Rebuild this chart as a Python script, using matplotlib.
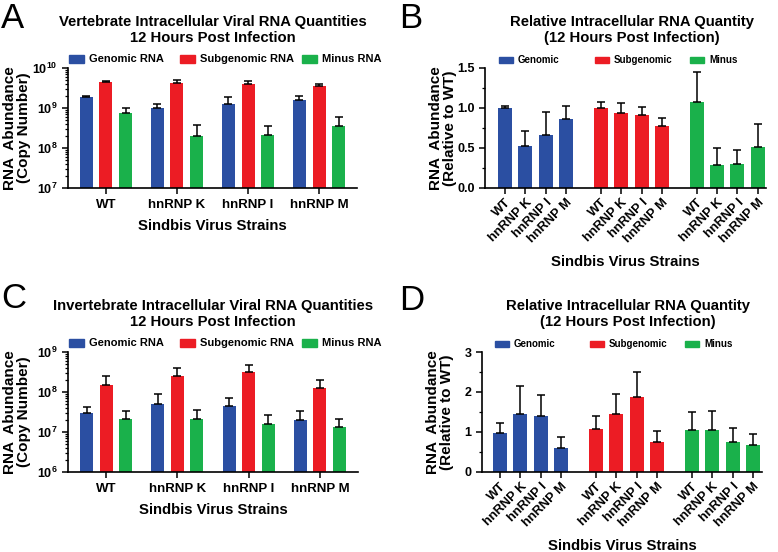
#!/usr/bin/env python3
"""Sindbis virus intracellular RNA quantities, 12 h post infection (4 panels)."""

import numpy as np
import matplotlib
matplotlib.use('Agg')
import matplotlib.pyplot as plt
from matplotlib.patches import Rectangle
from matplotlib.ticker import FuncFormatter, LogLocator, MultipleLocator

W, H = 778, 552

BLUE = '#2b4fa2'
RED = '#ec1c24'
GREEN = '#1ab14b'

STRAINS = ['WT', 'hnRNP K', 'hnRNP I', 'hnRNP M']

# panel A - vertebrate, copy number
A_genomic = [1.85e9, 1.0e9, 1.23e9, 1.6e9]
A_genomic_err = [0.10e9, 0.28e9, 0.65e9, 0.40e9]
A_sub = [4.47e9, 4.2e9, 4.06e9, 3.5e9]
A_sub_err = [0.33e9, 0.70e9, 0.54e9, 0.56e9]
A_minus = [7.5e8, 2.03e8, 2.15e8, 3.6e8]
A_minus_err = [2.5e8, 1.67e8, 1.4e8, 2.2e8]

# panel B - vertebrate, relative to WT
B_genomic = [1.0, 0.53, 0.66, 0.86]
B_genomic_err = [0.03, 0.18, 0.29, 0.17]
B_sub = [1.0, 0.94, 0.91, 0.78]
B_sub_err = [0.07, 0.12, 0.10, 0.09]
B_minus = [1.07, 0.29, 0.30, 0.51]
B_minus_err = [0.38, 0.21, 0.18, 0.29]

# panel C - invertebrate, copy number
C_genomic = [3.0e7, 4.9e7, 4.5e7, 1.96e7]
C_genomic_err = [1.2e7, 3.8e7, 2.7e7, 1.44e7]
C_sub = [1.47e8, 2.5e8, 3.1e8, 1.26e8]
C_sub_err = [0.99e8, 1.5e8, 1.7e8, 0.74e8]
C_minus = [2.1e7, 2.15e7, 1.58e7, 1.36e7]
C_minus_err = [1.25e7, 1.35e7, 1.02e7, 0.79e7]

# panel D - invertebrate, relative to WT
D_genomic = [0.975, 1.46, 1.40, 0.60]
D_genomic_err = [0.25, 0.68, 0.52, 0.27]
D_sub = [1.08, 1.45, 1.87, 0.75]
D_sub_err = [0.32, 0.51, 0.63, 0.27]
D_minus = [1.04, 1.05, 0.76, 0.67]
D_minus_err = [0.45, 0.48, 0.34, 0.29]

plt.rcParams.update({
    'font.family': ['Liberation Sans', 'DejaVu Sans'],
    'font.weight': 'bold',
    'axes.linewidth': 1.2,
    'xtick.major.width': 1.1,
    'ytick.major.width': 1.1,
    'xtick.minor.width': 0.9,
    'ytick.minor.width': 0.9,
    'xtick.major.size': 4,
    'ytick.major.size': 4,
    'ytick.minor.size': 2,
    'mathtext.fontset': 'custom',
    'mathtext.bf': 'Liberation Sans:bold',
    'mathtext.rm': 'Liberation Sans:bold',
})


def fx(x):
    return x / W


def fy(y):
    return 1 - y / H


def add_axes(fig, left, top, right, bottom):
    ax = fig.add_axes([fx(left), fy(bottom), (right - left) / W, (bottom - top) / H])
    ax.spines['top'].set_visible(False)
    ax.spines['right'].set_visible(False)
    ax.tick_params(axis='both', direction='out', labelsize=9)
    return ax


def bars(ax, x, vals, errs, color, width):
    ax.bar(x, vals, width=width, color=color, edgecolor='none', zorder=2)
    ax.errorbar(x, vals, yerr=[np.zeros(len(vals)), errs], fmt='none', ecolor='black',
                elinewidth=1.1, capsize=2.8, capthick=1.1, zorder=3)


def legend_row(fig, items, y, h, size, pw=15):
    for x, color, label in items:
        fig.patches.append(Rectangle((fx(x), fy(y + h / 2)), pw / W, h / H, color=color,
                                     transform=fig.transFigure, figure=fig))
        fig.text(fx(x + pw + 5), fy(y), label, fontsize=size, fontweight='bold', va='center')


def ylabel(fig, x, y, second):
    fig.text(fx(x), fy(y), 'RNA  Abundance\n' + second, rotation=90, ha='center', va='center',
             fontsize=11, fontweight='bold', linespacing=1.05, multialignment='center')


def log_panel(fig, top, bottom, right, ylo, yhi, data, title, letter, ltop):
    ax = add_axes(fig, 68, top, right, bottom)
    x = np.arange(len(STRAINS))
    off, bw = 0.275, 0.183
    (g, ge), (s, se), (m, me) = data
    bars(ax, x - off, g, ge, BLUE, bw)
    bars(ax, x, s, se, RED, bw)
    bars(ax, x + off, m, me, GREEN, bw)
    ax.set_yscale('log')
    ax.set_ylim(ylo, yhi)
    ax.set_xlim(-0.535, 3.535)
    ax.yaxis.set_major_locator(LogLocator(base=10))
    ax.yaxis.set_minor_locator(LogLocator(base=10, subs=np.arange(2, 10)))
    ax.yaxis.set_major_formatter(FuncFormatter(lambda v, p: r'$\mathbf{10^{%d}}$' % round(np.log10(v))))
    ax.set_xticks(x)
    ax.set_xticklabels(STRAINS, fontsize=9.5, fontweight='bold')
    ax.tick_params(axis='x', pad=4)
    ax.set_xlabel('Sindbis Virus Strains', fontsize=10.7, fontweight='bold', labelpad=6)
    fig.text(fx(213), fy(top - 38), title, ha='center', va='center', fontsize=10.7,
             fontweight='bold', linespacing=1.15)
    fig.text(fx(1), fy(ltop), letter, fontsize=25, fontweight='normal', va='center')
    legend_row(fig, [(69, BLUE, 'Genomic RNA'), (180, RED, 'Subgenomic RNA'),
                     (302, GREEN, 'Minus RNA')], top - 9, 8, 8)
    ylabel(fig, 17, (top + bottom) / 2, '(Copy Number)')
    return ax


def rel_panel(fig, left, top, right, bottom, data, ymax, step, xlim, title, letter, ltop, lx):
    ax = add_axes(fig, left, top, right, bottom)
    base = np.arange(4)
    gap = 4.7
    pos = []
    for i, ((v, e), color) in enumerate(zip(data, [BLUE, RED, GREEN])):
        x = base + i * gap
        bars(ax, x, v, e, color, 0.69)
        pos.extend(x)
    ax.set_xlim(*xlim)
    ax.set_ylim(0, ymax)
    ax.yaxis.set_major_locator(MultipleLocator(step))
    ax.yaxis.set_minor_locator(MultipleLocator(step / 2))
    if step < 1:
        ax.yaxis.set_major_formatter(FuncFormatter(lambda v, p: '%.1f' % v))
    ax.set_xticks(pos)
    ax.set_xticklabels(STRAINS * 3, rotation=45, ha='right', rotation_mode='anchor',
                       fontsize=9.3, fontweight='bold')
    ax.tick_params(axis='x', pad=2)
    ax.set_xlabel('Sindbis Virus Strains', fontsize=10.7, fontweight='bold', labelpad=7)
    fig.text(fx((left + right) / 2 + 6), fy(top - 38), title, ha='center', va='center',
             fontsize=10.7, fontweight='bold', linespacing=1.15)
    fig.text(fx(399), fy(ltop), letter, fontsize=25, fontweight='normal', va='center')
    legend_row(fig, [(lx[0], BLUE, 'Genomic'), (lx[1], RED, 'Subgenomic'),
                     (lx[2], GREEN, 'Minus')], top - 8, 6, 7, pw=14)
    ylabel(fig, left - 42, (top + bottom) / 2, '(Relative to WT)')
    return ax


def main():
    fig = plt.figure(figsize=(W / 100, H / 100), dpi=100)
    fig.patch.set_facecolor('white')

    log_panel(fig, 68, 188, 357, 1e7, 1e10,
              [(A_genomic, A_genomic_err), (A_sub, A_sub_err), (A_minus, A_minus_err)],
              'Vertebrate Intracellular Viral RNA Quantities\n12 Hours Post Infection', 'A', 18)
    log_panel(fig, 352, 472, 358, 1e6, 1e9,
              [(C_genomic, C_genomic_err), (C_sub, C_sub_err), (C_minus, C_minus_err)],
              'Invertebrate Intracellular Viral RNA Quantities\n12 Hours Post Infection', 'C', 298)

    rel_panel(fig, 485, 68, 766, 188,
              [(B_genomic, B_genomic_err), (B_sub, B_sub_err), (B_minus, B_minus_err)],
              1.5, 0.5, (-0.98, 12.8),
              'Relative Intracellular RNA Quantity\n(12 Hours Post Infection)', 'B', 19,
              (499, 595, 690))
    rel_panel(fig, 482, 352, 762, 472,
              [(D_genomic, D_genomic_err), (D_sub, D_sub_err), (D_minus, D_minus_err)],
              3, 1, (-0.88, 12.84),
              'Relative Intracellular RNA Quantity\n(12 Hours Post Infection)', 'D', 300,
              (495, 590, 685))

    fig.savefig('out.png', dpi=100)
    plt.close(fig)


if __name__ == '__main__':
    main()
